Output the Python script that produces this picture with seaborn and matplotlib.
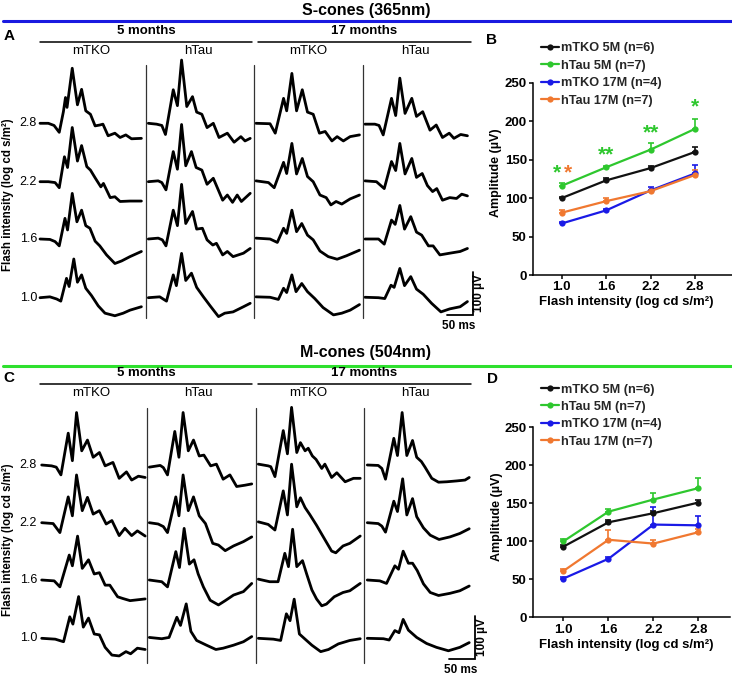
import numpy as np
import pandas as pd
import matplotlib
matplotlib.use("Agg")
import matplotlib.pyplot as plt
import seaborn as sns
from matplotlib.lines import Line2D

sns.set_theme(style="white")
plt.rcParams["font.family"] = ["Liberation Sans", "DejaVu Sans"]

# ---------------------------------------------------------------- data
intensities = [1.0, 1.6, 2.2, 2.8]
row_labels = ["2.8", "2.2", "1.6", "1.0"]
groups = ["mTKO 5M (n=6)", "hTau 5M (n=7)", "mTKO 17M (n=4)", "hTau 17M (n=7)"]
group_colors = ["#111111", "#2ec72e", "#1a1ae6", "#f07830"]
col_genotypes = ["mTKO", "hTau", "mTKO", "hTau"]
ages = ["5 months", "17 months"]

# amplitude means / SEM (uV), S-cones (365nm)
s_mtko5 = [100, 123, 139, 160];  s_mtko5_err = [1.5, 3, 3, 6]
s_htau5 = [116, 140, 163, 190];  s_htau5_err = [3, 2, 8, 13]
s_mtko17 = [67, 84, 110, 132];   s_mtko17_err = [2, 2, 5, 11]
s_htau17 = [81, 96, 109, 130];   s_htau17_err = [3, 4, 2, 6]
# M-cones (504nm)
m_mtko5 = [93, 125, 137, 151];   m_mtko5_err = [2, 3, 3, 4]
m_htau5 = [100, 139, 155, 170];  m_htau5_err = [3, 4, 8, 13]
m_mtko17 = [51, 77, 122, 121];   m_mtko17_err = [2, 3, 23, 12]
m_htau17 = [61, 102, 97, 112];   m_htau17_err = [3, 13, 5, 4]

# significance marks (S-cones): intensity, label, colour index, amplitude
sig_x = [1.0, 1.0, 1.6, 2.2, 2.8]
sig_txt = ["*", "*", "**", "**", "*"]
sig_col = [1, 3, 1, 1, 1]
sig_y = [133, 133, 156, 185, 218]

# ERG traces: (time ms, amplitude uV), rows 2.8, 2.2, 1.6, 1.0
s_traces = {
 "mTKO 5M": [
  ([0,16,27,37,45,49,52,62,72,80,88,97,106,115,121,131,144,154,165,176,195],
   [0,0,-5,-21,27,60,37,128,43,79,29,21,-6,-4,-2,-29,-23,-33,-27,-36,-35]),
  ([0,16,29,37,47,53,62,72,80,90,97,106,117,122,135,144,154,173,195],
   [0,0,-2,-14,58,33,126,48,84,35,27,9,-12,-4,-37,-35,-46,-45,-45]),
  ([0,19,29,37,48,53,62,71,80,88,96,106,115,128,144,157,173,195],
   [0,-1,-6,-16,48,21,106,40,67,31,25,-5,-16,-37,-57,-51,-41,-29]),
  ([0,19,32,40,51,56,65,72,80,88,99,112,125,144,160,173,195],
   [0,2,-3,-8,45,26,90,36,53,22,5,-19,-36,-42,-36,-29,-21])],
 "hTau 5M": [
  ([0,16,26,33,48,56,64,74,85,93,103,113,125,136,152,165,178,186,196],
   [0,-2,-5,-26,78,41,147,39,62,26,21,-10,0,-33,-23,-44,-31,-41,-35]),
  ([0,19,26,34,48,56,64,72,83,92,103,113,125,143,152,162,171,179,196],
   [0,2,-2,-19,70,29,133,37,70,33,27,-6,8,-43,-31,-48,-31,-46,-27]),
  ([0,19,27,34,48,56,64,72,85,93,104,113,124,131,143,152,163,183,196],
   [0,2,-2,-16,67,31,127,36,64,23,25,-2,-14,-10,-37,-29,-41,-33,-22]),
  ([0,22,35,48,54,64,72,83,93,106,119,135,147,163,183,196],
   [0,2,-8,53,28,103,40,57,24,2,-19,-44,-36,-33,-21,-13])],
 "mTKO 17M": [
  ([0,27,37,53,59,69,78,89,99,110,122,133,146,156,168,181,199],
   [0,-1,-23,58,29,116,29,78,26,21,-23,-19,-41,-31,-41,-31,-27]),
  ([0,24,35,53,59,69,78,89,99,110,123,135,144,154,165,181,199],
   [2,-2,-14,45,19,89,18,54,12,0,-31,-37,-54,-46,-52,-40,-31]),
  ([0,27,41,53,59,69,78,88,99,110,123,139,156,174,199],
   [2,0,-8,25,13,67,17,36,9,-2,-28,-41,-47,-39,-26]),
  ([0,27,43,53,59,69,77,88,99,113,129,149,165,181,199],
   [2,1,-4,22,12,53,14,33,14,-2,-23,-40,-36,-29,-16])],
 "hTau 17M": [
  ([0,19,27,35,51,59,67,77,90,99,111,125,137,149,162,171,184,197],
   [-2,-2,-5,-27,58,18,105,23,58,16,27,-16,-4,-33,-23,-35,-26,-29]),
  ([0,22,37,51,59,67,77,90,99,110,120,130,138,149,163,176,186,197],
   [2,0,-16,47,26,89,18,54,10,19,-9,-23,-16,-43,-37,-39,-29,-33]),
  ([0,26,37,51,58,67,76,88,99,109,122,131,144,163,183,197],
   [0,0,-12,44,34,78,23,52,16,9,-16,-16,-37,-33,-29,-22]),
  ([0,26,38,50,56,67,76,88,99,112,128,146,163,183,197],
   [1,0,-2,29,24,68,28,49,20,8,-13,-33,-26,-21,-9])],
}
m_traces = {
 "mTKO 5M": [
  ([0,19,28,37,51,59,67,77,88,99,111,122,137,149,163,173,186,199],
   [0,-2,-5,-23,74,10,122,33,58,18,29,-2,6,-31,-16,-35,-26,-29]),
  ([0,22,35,51,59,67,78,88,99,111,124,135,149,160,173,184,199],
   [0,-2,-23,60,16,111,28,59,20,28,-3,5,-30,-13,-30,-19,-31]),
  ([0,24,35,53,59,69,78,90,101,111,122,131,146,156,170,199],
   [0,-2,-16,58,33,102,27,47,14,17,-12,-12,-39,-43,-48,-44]),
  ([0,26,42,54,60,71,80,90,101,111,122,135,149,162,171,184,199],
   [0,-2,-8,50,33,97,26,47,10,8,-21,-39,-41,-31,-36,-23,-26])],
 "hTau 5M": [
  ([0,21,27,35,49,57,65,75,85,96,105,118,129,142,155,168,184,197],
   [-5,-1,-6,-23,78,18,122,33,58,21,23,-2,2,-33,-23,-50,-47,-44]),
  ([0,17,27,35,51,57,65,75,85,96,108,122,133,146,162,181,197],
   [0,-3,-9,-23,60,16,111,28,60,16,-2,-48,-52,-65,-54,-44,-33]),
  ([0,24,35,51,58,67,77,86,94,104,117,133,146,162,181,197],
   [0,-4,-16,66,29,120,37,47,14,-16,-47,-58,-48,-35,-27,-8]),
  ([0,24,38,53,60,71,80,91,110,128,142,162,181,197],
   [2,-1,2,49,30,80,16,-5,-16,-26,-23,-16,-8,4])],
 "mTKO 17M": [
  ([0,19,24,32,48,56,64,74,81,90,96,104,111,122,128,141,151,167,183,196],
   [2,-2,-4,-27,80,26,134,29,52,33,39,21,13,-8,2,-29,-18,-39,-31,-31]),
  ([0,19,32,48,56,64,74,81,90,99,112,125,141,149,163,176,196],
   [2,-4,-17,74,18,136,37,58,35,19,-6,-33,-66,-70,-54,-48,-31]),
  ([0,22,38,51,58,66,74,85,93,103,112,122,131,146,163,176,196],
   [2,-4,-4,62,31,118,31,45,14,-23,-44,-60,-56,-39,-29,-25,-8]),
  ([0,29,43,54,61,69,79,90,103,120,135,154,176,196],
   [0,-2,-5,57,41,91,10,-2,-16,-31,-26,-13,-5,-1])],
 "hTau 17M": [
  ([0,21,28,35,51,58,67,76,87,95,104,111,124,137,153,172,188,196],
   [0,-1,-8,-33,62,22,122,22,57,18,8,-5,-31,-40,-39,-37,-35,-29]),
  ([0,21,28,35,51,58,68,76,87,95,108,121,138,159,178,196],
   [0,-2,-8,-22,50,26,102,18,56,14,-12,-29,-39,-33,-25,-14]),
  ([0,24,37,53,60,69,79,87,96,108,121,137,159,178,196],
   [0,-2,-8,33,25,67,39,39,22,-9,-29,-36,-31,-25,-14]),
  ([0,31,42,53,61,69,79,95,114,133,156,178,196],
   [0,-1,-4,18,13,44,19,2,-12,-21,-29,-21,-10])],
}

# ---------------------------------------------------------------- layout
W, H = 732, 676
fig = plt.figure(figsize=(W / 100, H / 100), dpi=100)
MS_PER_PX = 50 / 26.0
UV_PER_PX = 2.325
XLAB = "Flash intensity (log cd s/m\u00b2)"


def add_ax_px(x0, y0, x1, y1):
    return fig.add_axes([x0 / W, 1 - y1 / H, (x1 - x0) / W, (y1 - y0) / H])


def ftext(x, y, s, **kw):
    kw.setdefault("ha", "center")
    kw.setdefault("va", "center")
    kw.setdefault("color", "black")
    fig.text(x / W, 1 - y / H, s, **kw)


def section(title, ytitle, yline, color):
    ftext(366, ytitle, title, fontsize=11.5, fontweight="bold")
    fig.add_artist(Line2D([3 / W, 1.0], [1 - yline / H] * 2, color=color, lw=2.2,
                          transform=fig.transFigure))


def trace_panel(traces, letter, top, origin, row_px, col_starts_px, sep_x_px,
                sep_y_px, bar_px, header_y, ylab_y):
    ox, oy = origin
    ax = add_ax_px(30, top, 490, top + 275)
    ax.set_xlim((30 - ox) * MS_PER_PX, (490 - ox) * MS_PER_PX)
    ax.set_ylim((oy - (top + 275)) * UV_PER_PX, (oy - top) * UV_PER_PX)
    ax.axis("off")
    col_off = [(c - ox) * MS_PER_PX for c in col_starts_px]
    row_off = [(oy - r) * UV_PER_PX for r in row_px]
    recs = []
    for ci, key in enumerate(["mTKO 5M", "hTau 5M", "mTKO 17M", "hTau 17M"]):
        for ri, (t, v) in enumerate(traces[key]):
            for tt, vv in zip(t, v):
                recs.append(dict(uid=f"{ci}-{ri}", x=tt + col_off[ci], y=vv + row_off[ri]))
    df = pd.DataFrame(recs)
    sns.lineplot(data=df, x="x", y="y", units="uid", estimator=None, sort=False,
                 color="black", lw=2.0, ax=ax, legend=False)
    for ln in ax.lines:
        ln.set_solid_joinstyle("round")
        ln.set_solid_capstyle("round")
    # separators
    for sx in sep_x_px:
        ax.plot([(sx - ox) * MS_PER_PX] * 2,
                [(oy - sep_y_px[0]) * UV_PER_PX, (oy - sep_y_px[1]) * UV_PER_PX],
                color="#333333", lw=0.9)
    # scale bar 100 uV / 50 ms
    bx = (bar_px[0] - ox) * MS_PER_PX
    by = (oy - bar_px[1]) * UV_PER_PX
    ax.plot([bx - 50, bx, bx], [by, by, by + 100], color="black", lw=1.3,
            solid_joinstyle="miter")
    ftext(bar_px[0] + 6.5, bar_px[1] - 22, "100 µV", rotation=90, fontsize=8.5,
          fontweight="bold")
    ftext(bar_px[0] - 14, bar_px[1] + 11, "50 ms", fontsize=8.5, fontweight="bold")
    # row labels
    for r, lab in zip(row_px, row_labels):
        ftext(37, r, lab, ha="right", fontsize=9)
    # headers
    ftext(9, header_y - 3, letter, fontsize=11, fontweight="bold")
    for (x0, x1), age in zip([(40, 251.7), (258, 470.5)], ages):
        fig.add_artist(Line2D([x0 / W, x1 / W], [1 - (header_y + 3) / H] * 2,
                              color="black", lw=1.1, transform=fig.transFigure))
        ftext((x0 + x1) / 2, header_y - 7.5, age, fontsize=9.5, fontweight="bold")
    for cx, g in zip([91.7, 198, 308, 415], col_genotypes):
        ftext(cx, header_y + 12.5, g, fontsize=9.5)
    ftext(8.5, ylab_y, XLAB, rotation=90, fontsize=8.3, fontweight="bold")


def amp_panel(means, errs, letter, box, legend_top, letter_xy, ylab_xy, xlab_xy,
              xlim, sig=None):
    ax = add_ax_px(*box)
    rec = []
    for g, mvals in zip(groups, means):
        for x, m in zip(intensities, mvals):
            rec.append(dict(group=g, intensity=x, amplitude=m))
    df = pd.DataFrame(rec)
    for g, c, mvals, evals in zip(groups, group_colors, means, errs):
        ax.errorbar(intensities, mvals, yerr=[np.zeros(4), evals], fmt="none",
                    ecolor=c, elinewidth=1.2, capsize=2.4, capthick=1.2, zorder=2)
    sns.lineplot(data=df, x="intensity", y="amplitude", hue="group",
                 palette=dict(zip(groups, group_colors)), marker="o", markersize=4.5,
                 markeredgewidth=0, lw=1.6, ax=ax, legend=False, zorder=3)
    ax.set_xlim(*xlim)
    ax.set_ylim(0, 250)
    ax.set_xticks(intensities)
    ax.set_xticklabels([f"{v:.1f}" for v in intensities])
    ax.set_yticks([0, 50, 100, 150, 200, 250])
    ax.set_xlabel("")
    ax.set_ylabel("")
    for s in ["top", "right"]:
        ax.spines[s].set_visible(False)
    for s in ["left", "bottom"]:
        ax.spines[s].set_color("black")
        ax.spines[s].set_linewidth(1.1)
    ax.tick_params(axis="both", direction="out", length=3, width=1.1, color="black",
                   labelsize=9.5, labelcolor="black", pad=1.5, left=True, bottom=True)
    for lab in ax.get_xticklabels() + ax.get_yticklabels():
        lab.set_fontweight("bold")
    handles = [Line2D([], [], color=c, marker="o", markersize=4.5, markeredgewidth=0,
                      lw=1.6) for c in group_colors]
    ax.legend(handles, groups, loc="upper left",
              bbox_to_anchor=(541 / W, 1 - legend_top / H),
              bbox_transform=fig.transFigure, frameon=False,
              prop=dict(weight="bold", size=9.2), handlelength=1.4,
              handletextpad=0.2, labelspacing=0.42, borderpad=0,
              borderaxespad=0)
    ftext(*letter_xy, letter, fontsize=11, fontweight="bold")
    ftext(*ylab_xy, "Amplitude (µV)", rotation=90, fontsize=9, fontweight="bold")
    ftext(*xlab_xy, XLAB, fontsize=9.5, fontweight="bold")
    if sig is not None:
        for x, t, ci, y in zip(*sig):
            ax.text(x, y, t, ha="center", va="center", fontsize=15, fontweight="bold",
                    color=group_colors[ci])
    return ax


# ---------------------------------------------------------------- S-cones
section("S-cones (365nm)", 10, 21, "#1a1ae0")
trace_panel(s_traces, "A", 55, (40, 123.3), [123.3, 181.7, 239, 297.7],
            [40, 148.3, 256, 365], [145.7, 254, 362.7], (65, 318), (472.7, 315), 39,
            195)
sig_positions = [x + d for x, d in zip(sig_x, [-0.07, 0.085, 0, 0, 0])]
amp_panel([s_mtko5, s_htau5, s_mtko17, s_htau17],
          [s_mtko5_err, s_htau5_err, s_mtko17_err, s_htau17_err],
          "B", (533, 82.7, 732, 275), 42.5, (491.7, 40), (496, 173), (626.7, 301.7),
          (0.612, 3.30), sig=(sig_positions, sig_txt, sig_col, sig_y))

# ---------------------------------------------------------------- M-cones
section("M-cones (504nm)", 352, 366, "#2ee02e")
trace_panel(m_traces, "C", 395, (41.7, 465), [465, 522.7, 580, 638.3],
            [41.7, 149.3, 258.3, 367.3], [146.7, 256, 364.3], (408, 663), (475, 659.3),
            381, 540)
amp_panel([m_mtko5, m_htau5, m_mtko17, m_htau17],
          [m_mtko5_err, m_htau5_err, m_mtko17_err, m_htau17_err],
          "D", (533, 427.3, 730, 617.3), 383.5, (492.7, 379.3), (496.7, 516.7),
          (626, 645), (0.594, 3.22))

fig.savefig("out.png", dpi=100)
